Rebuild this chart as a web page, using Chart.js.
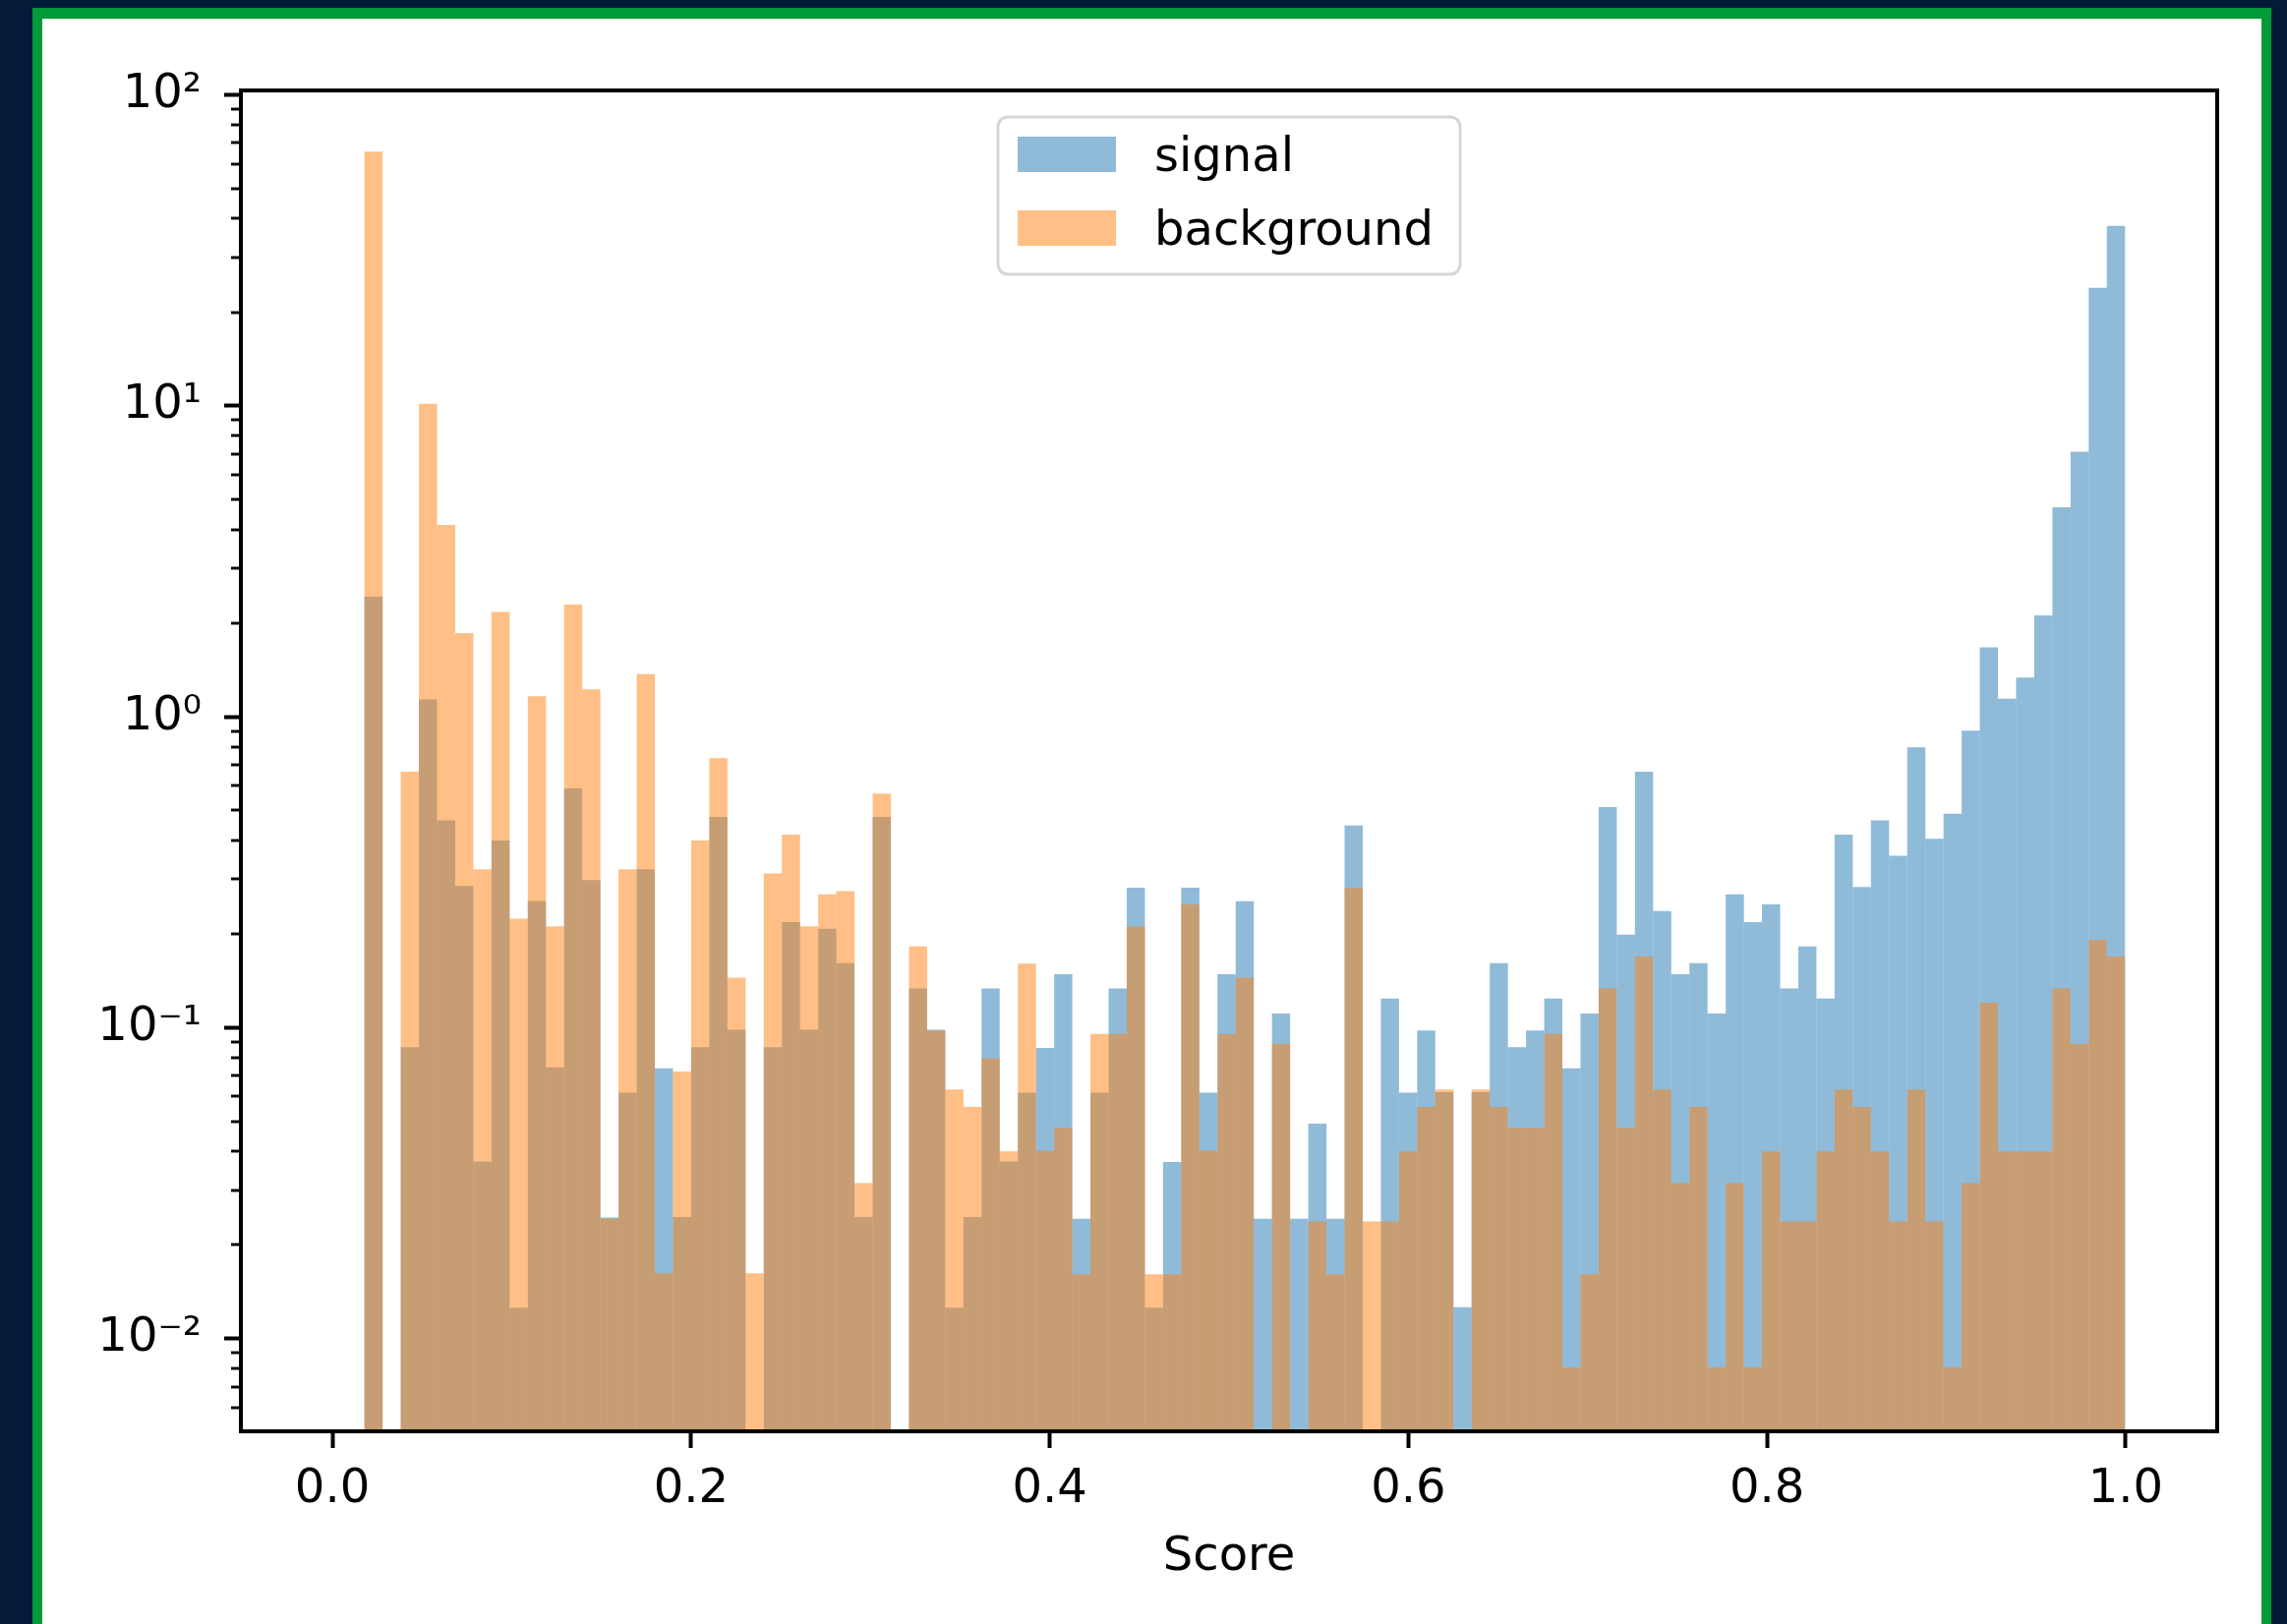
<!DOCTYPE html>
<html>
<head>
<meta charset="utf-8">
<title>Score distribution</title>
<script src="https://cdn.jsdelivr.net/npm/chart.js@4.4.1/dist/chart.umd.min.js"></script>
<style>
  html, body { margin: 0; padding: 0; width: 2326px; height: 1652px; overflow: hidden; background: #031a38; }
  #frame { position: absolute; left: 33px; top: 8px; width: 2277px; height: 1700px; box-sizing: border-box;
           border-style: solid; border-color: #019a39; border-width: 11px 10px 0 10px; background: #ffffff; }
  #plot { position: absolute; left: 44px; top: 19px; width: 2256px; height: 1633px; }
</style>
</head>
<body>
<div id="frame"></div>
<div id="plot"><canvas id="chart"></canvas></div>
<script>
// Histogram of classifier scores: 97 equal bins spanning the observed score range.
const scoreRange = [0.0179, 0.9996];
const binCount = 97;

// Normalised bin heights (density); null marks an empty bin.
const signal = [
  2.43, null, 0.0865, 1.136, 0.464, 0.2855, 0.0371, 0.3995, 0.01257, 0.2553,
  0.0745, 0.5874, 0.2982, 0.0245, 0.0618, 0.3233, 0.0740, 0.0246, 0.0865, 0.4756,
  0.0985, null, 0.0865, 0.2184, 0.0985, 0.2078, 0.1611, 0.0246, 0.4756, null,
  0.1336, 0.0985, 0.01257, 0.0246, 0.1336, 0.0371, 0.0618, 0.0860, 0.1486, 0.0243,
  0.0618, 0.1336, 0.2819, 0.01257, 0.0370, 0.2819, 0.0618, 0.1486, 0.2552, 0.0243,
  0.1109, 0.0243, 0.0491, 0.0243, 0.4467, null, 0.1241, 0.0618, 0.0979, 0.0620,
  0.0126, 0.0620, 0.1611, 0.0865, 0.0979, 0.1241, 0.0740, 0.1109, 0.5122, 0.1989,
  0.665, 0.2369, 0.1486, 0.1611, 0.1109, 0.2683, 0.2184, 0.2489, 0.1336, 0.1824,
  0.1241, 0.4172, 0.2836, 0.4638, 0.3573, 0.797, 0.4046, 0.4875, 0.902, 1.671,
  1.143, 1.335, 2.117, 4.72, 7.12, 23.95, 37.9
];
const background = [
  65.6, null, 0.665, 10.15, 4.14, 1.857, 0.3233, 2.17, 0.224, 1.164,
  0.2118, 2.295, 1.224, 0.0243, 0.3233, 1.37, 0.0162, 0.0722, 0.3995, 0.735,
  0.1448, 0.0162, 0.313, 0.4172, 0.2118, 0.2683, 0.2749, 0.0316, 0.566, null,
  0.1824, 0.0979, 0.0633, 0.0556, 0.0797, 0.0400, 0.1607, 0.0402, 0.0476, 0.0161,
  0.0955, 0.0955, 0.2118, 0.0161, 0.0161, 0.2489, 0.0402, 0.0955, 0.1448, null,
  0.0886, null, 0.0238, 0.0161, 0.2819, 0.0238, 0.0238, 0.0400, 0.0556, 0.0633,
  null, 0.0633, 0.0556, 0.0476, 0.0476, 0.0955, 0.00808, 0.0161, 0.1336, 0.0476,
  0.1693, 0.0633, 0.0316, 0.0556, 0.00808, 0.0316, 0.00808, 0.0400, 0.0238, 0.0238,
  0.0400, 0.0633, 0.0556, 0.0400, 0.0238, 0.0633, 0.0238, 0.00808, 0.0316, 0.1202,
  0.0400, 0.0400, 0.0400, 0.1336, 0.0886, 0.1917, 0.1693
];

const seriesNames = ['signal', 'background'];
const seriesColors = ['rgba(31, 119, 180, 0.5)', 'rgba(255, 127, 14, 0.5)'];

const xTickValues = [0, 0.2, 0.4, 0.6, 0.8, 1.0];
const xTickLabels = ['0.0', '0.2', '0.4', '0.6', '0.8', '1.0'];
const yTickValues = [0.01, 0.1, 1, 10, 100];
const yTickLabels = ['10\u207B\u00B2', '10\u207B\u00B9', '10\u2070', '10\u00B9', '10\u00B2'];
const yRange = [0.00503, 103.3];
const xRange = [-0.051, 1.051];

const binWidth = (scoreRange[1] - scoreRange[0]) / binCount;
const binCenters = signal.map((_, k) => scoreRange[0] + (k + 0.5) * binWidth);

// Unlabelled log-scale minor ticks (2..9 x 10^n) inside the y range.
const yMinorTicks = [];
for (let e = -3; e <= 2; e++) {
  for (let m = 2; m <= 9; m++) {
    const v = m * Math.pow(10, e);
    if (v >= yRange[0] && v <= yRange[1]) yMinorTicks.push(v);
  }
}

const FONT = { family: '"DejaVu Sans", sans-serif', size: 48 };

// Closed axes box plus short minor ticks on the log axis.
const axesFrame = {
  id: 'axesFrame',
  afterDatasetsDraw(chart) {
    const { ctx, chartArea: a, scales: { y } } = chart;
    ctx.save();
    ctx.strokeStyle = '#000';
    ctx.lineWidth = 2.9;
    yMinorTicks.forEach(v => {
      const py = Math.round(y.getPixelForValue(v));
      ctx.beginPath();
      ctx.moveTo(a.left - 10, py);
      ctx.lineTo(a.left, py);
      ctx.stroke();
    });
    ctx.lineWidth = 4;
    ctx.strokeRect(a.left, a.top, a.right - a.left, a.bottom - a.top);
    ctx.restore();
  }
};

// Legend box centred at the top of the plot area.
const legendBox = {
  id: 'legendBox',
  afterDraw(chart) {
    const { ctx, chartArea: a } = chart;
    const w = 470, h = 160;
    const x0 = (a.left + a.right) / 2 - w / 2;
    const y0 = a.top + 27;
    ctx.save();
    ctx.beginPath();
    ctx.roundRect(x0, y0, w, h, 10);
    ctx.fillStyle = 'rgba(255,255,255,0.8)';
    ctx.fill();
    ctx.lineWidth = 3;
    ctx.strokeStyle = 'rgba(204,204,204,0.8)';
    ctx.stroke();
    ctx.font = `${FONT.size}px ${FONT.family}`;
    ctx.textAlign = 'left';
    ctx.textBaseline = 'alphabetic';
    chart.data.datasets.forEach((ds, i) => {
      const cy = y0 + 38 + i * 75;
      ctx.fillStyle = ds.backgroundColor;
      ctx.fillRect(x0 + 20, cy - 18, 100, 36);
      ctx.fillStyle = '#000';
      ctx.fillText(ds.label, x0 + 159, cy + 17);
    });
    ctx.restore();
  }
};

const makeSeries = (values, i) => ({
  label: seriesNames[i],
  data: binCenters.map((x, k) => ({ x, y: values[k] })),
  backgroundColor: seriesColors[i],
  borderWidth: 0,
  inflateAmount: 0,
  grouped: false,
  barPercentage: 1,
  categoryPercentage: 1,
  order: i === 0 ? 2 : 1
});

new Chart(document.getElementById('chart'), {
  type: 'bar',
  data: { datasets: [makeSeries(signal, 0), makeSeries(background, 1)] },
  options: {
    responsive: true,
    maintainAspectRatio: false,
    animation: false,
    devicePixelRatio: 1,
    layout: { padding: { left: 0, top: 73, right: 45, bottom: 0 } },
    plugins: { legend: { display: false }, tooltip: { enabled: false } },
    scales: {
      x: {
        type: 'linear',
        min: xRange[0],
        max: xRange[1],
        offset: false,
        afterBuildTicks: s => { s.ticks = xTickValues.map(v => ({ value: v })); },
        afterFit: s => { s.height = 196; },
        ticks: { autoSkip: false, maxRotation: 0, padding: 14, color: '#000', font: FONT,
                 callback: (v, i) => xTickLabels[i] },
        grid: { display: true, offset: false, drawOnChartArea: false, drawTicks: true,
                tickLength: 17, tickWidth: 4, tickColor: '#000' },
        border: { display: false },
        title: { display: true, text: 'Score', color: '#000', font: FONT, padding: { top: 0, bottom: 39 } }
      },
      y: {
        type: 'logarithmic',
        min: yRange[0],
        max: yRange[1],
        bounds: 'data',
        afterBuildTicks: s => { s.ticks = yTickValues.map(v => ({ value: v, major: true })); },
        afterFit: s => { s.width = 201; },
        ticks: { autoSkip: false, padding: 23, color: '#000', font: FONT,
                 callback: (v, i) => yTickLabels[i] },
        grid: { display: true, drawOnChartArea: false, drawTicks: true,
                tickLength: 17, tickWidth: 4, tickColor: '#000' },
        border: { display: false }
      }
    }
  },
  plugins: [axesFrame, legendBox]
});
</script>
</body>
</html>
